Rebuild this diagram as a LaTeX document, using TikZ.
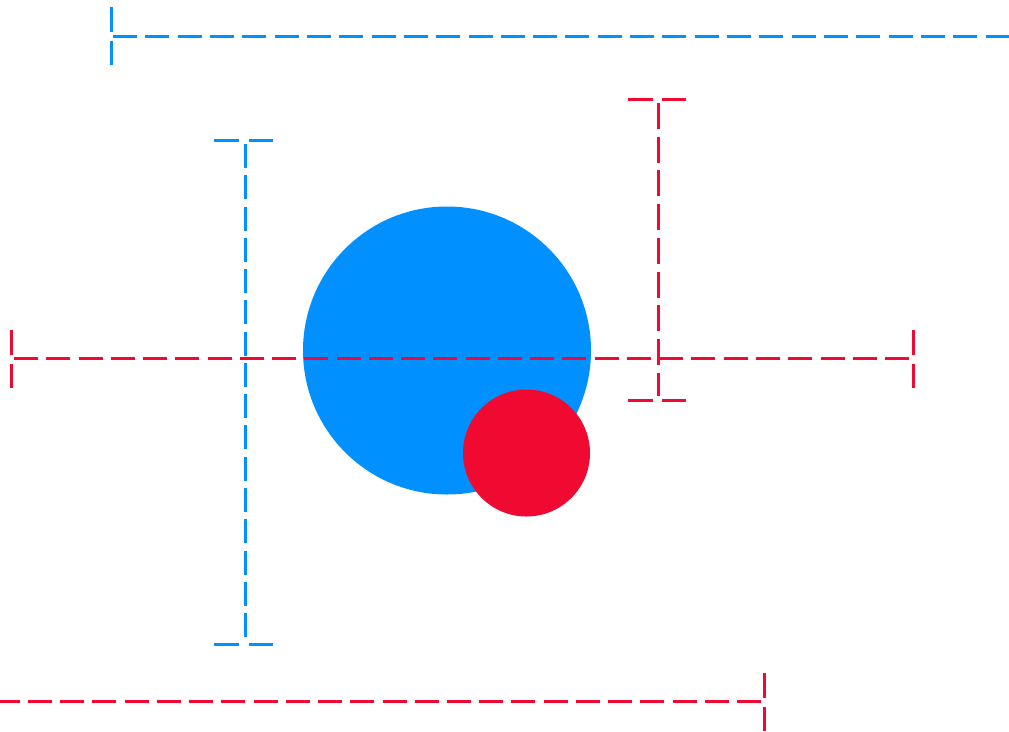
\documentclass[tikz,border=0pt]{standalone}
\definecolor{cblue}{RGB}{0,144,255}
\definecolor{cred}{RGB}{240,10,50}
\begin{document}
\begin{tikzpicture}[x=1pt,y=-1pt,line width=3pt]
\tikzset{
  dimline/.style={dash pattern=on 24pt off 8.28pt},
  ticksty/.style={dash pattern=on 25pt off 8.5pt},
  ball/.style={circle,inner sep=0pt,draw=none}
}
\useasboundingbox (0,0) rectangle (1009,731);
% circles
\node[ball,fill=cblue,minimum size=288pt] (big) at (447,350.5) {};
\node[ball,fill=cred,minimum size=127pt] (small) at (526.5,453) {};
% coordinates
\coordinate (tbA) at (113,36.3);   \coordinate (tbB) at (1009,36.3);
\coordinate (tbT1) at (111,7);     \coordinate (tbT2) at (111,65);
\coordinate (rhA) at (14,358.3);   \coordinate (rhB) at (909,358.3);
\coordinate (rhL1) at (11.3,330);  \coordinate (rhL2) at (11.3,388);
\coordinate (rhR1) at (913.5,330); \coordinate (rhR2) at (913.5,388);
\coordinate (rvA) at (658.7,103);  \coordinate (rvB) at (658.7,396);
\coordinate (rvT1) at (628,99);    \coordinate (rvT2) at (686,99);
\coordinate (rvU1) at (628,400);   \coordinate (rvU2) at (686,400);
\coordinate (bvA) at (245.5,144);  \coordinate (bvB) at (245.5,637);
\coordinate (bvT1) at (214,140.3); \coordinate (bvT2) at (273,140.3);
\coordinate (bvU1) at (214,644.3); \coordinate (bvU2) at (273,644.3);
\coordinate (rbA) at (-4.2,701.3); \coordinate (rbB) at (761,701.3);
\coordinate (rbT1) at (764.5,673); \coordinate (rbT2) at (764.5,731);
% blue top dimension
\draw[cblue,dash pattern=on 24pt off 8.32pt] (tbA) -- (tbB);
\draw[cblue,ticksty] (tbT1) -- (tbT2);
% blue vertical dimension
\draw[cblue,dash pattern=on 24pt off 7.27pt] (bvA) -- (bvB);
\draw[cblue,dash pattern=on 25pt off 10pt] (bvT1) -- (bvT2);
\draw[cblue,dash pattern=on 25pt off 10pt] (bvU1) -- (bvU2);
% red horizontal dimension
\draw[cred,dash pattern=on 24pt off 8.26pt] (rhA) -- (rhB);
\draw[cred,ticksty] (rhL1) -- (rhL2);
\draw[cred,ticksty] (rhR1) -- (rhR2);
% red vertical dimension
\draw[cred,dash pattern=on 26pt off 7.7pt] (rvA) -- (rvB);
\draw[cred,dash pattern=on 25pt off 9pt] (rvT1) -- (rvT2);
\draw[cred,dash pattern=on 25pt off 9pt] (rvU1) -- (rvU2);
% red bottom dimension
\draw[cred,dash pattern=on 24pt off 8.23pt] (rbA) -- (rbB);
\draw[cred,ticksty] (rbT1) -- (rbT2);
\end{tikzpicture}
\end{document}
